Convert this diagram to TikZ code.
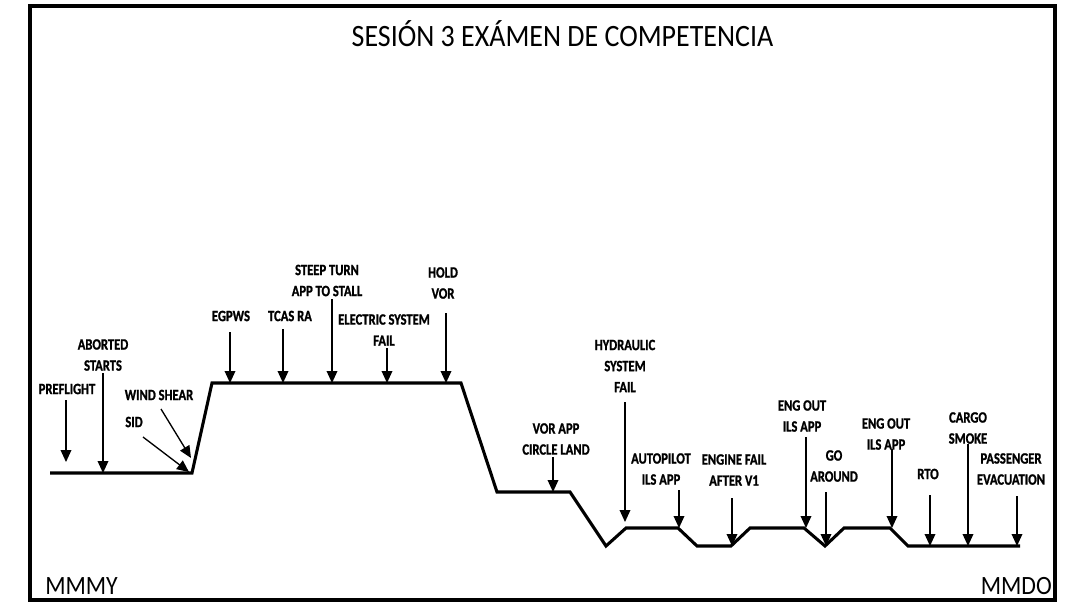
\documentclass[tikz,border=0pt]{standalone}
\usepackage{fontspec}
\setmainfont{Carlito}
\newfontfamily\titlefont{Carlito}[FakeStretch=0.9]
\newfontfamily\labfont{Carlito}[FakeStretch=0.8,FakeBold=1.2]
\usetikzlibrary{arrows.meta}
\begin{document}
\begin{tikzpicture}[x=0.75pt,y=-0.75pt,
  lab/.style={align=center,inner sep=0pt,font=\labfont\bfseries\fontsize{11.8pt}{15.8pt}\selectfont},
  evarrow/.style={line width=1pt,-{Triangle[width=8pt,length=9pt]}},
  profile/.style={line width=2.3pt,line join=miter},
  frame/.style={line width=2.3pt}]
\useasboundingbox (0,0) rectangle (1088,612);
\draw[frame] (30,6) rectangle (1055,600);
\node[inner sep=0pt,font=\titlefont\fontsize{23.3pt}{28pt}\selectfont] (title) at (562.5,34) {SESIÓN 3 EXÁMEN DE COMPETENCIA};
\node[inner sep=0pt,anchor=west,font=\titlefont\fontsize{19.8pt}{24pt}\selectfont] (orig) at (45,586) {MMMY};
\node[inner sep=0pt,anchor=east,font=\titlefont\fontsize{19.8pt}{24pt}\selectfont] (dest) at (1052,586) {MMDO};
% profile
\draw[profile] (50,473) -- (192,473) -- (212,383) -- (461,383) -- (497,492) -- (570,492) -- (606,546) -- (626,528) -- (678,528) -- (697,546) -- (731,546) -- (750,528) -- (804,528) -- (825,546) -- (844,528) -- (890,528) -- (908,546) -- (1020,546);
% labels
\node[lab] (preflight) at (67,389) {PREFLIGHT};
\node[lab] (aborted) at (103,355) {ABORTED\\STARTS};
\node[lab] (windshear) at (159,395) {WIND SHEAR};
\node[lab] (sid) at (134,422) {SID};
\node[lab] (egpws) at (231,316) {EGPWS};
\node[lab] (tcas) at (290,316) {TCAS RA};
\node[lab] (steep) at (327,280.5) {STEEP TURN\\APP TO STALL};
\node[lab] (elec) at (384,330) {ELECTRIC SYSTEM\\FAIL};
\node[lab] (hold) at (443,283) {HOLD\\VOR};
\node[lab] (hyd) at (625,366) {HYDRAULIC\\SYSTEM\\FAIL};
\node[lab] (vorapp) at (556,439) {VOR APP\\CIRCLE LAND};
\node[lab] (autop) at (661,469) {AUTOPILOT\\ILS APP};
\node[lab] (engfail) at (734,470) {ENGINE FAIL\\AFTER V1};
\node[lab] (engouta) at (802,416) {ENG OUT\\ILS APP};
\node[lab] (goaround) at (834,466) {GO\\AROUND};
\node[lab] (engoutb) at (886,434) {ENG OUT\\ILS APP};
\node[lab] (rto) at (928,474) {RTO};
\node[lab] (cargo) at (968,428) {CARGO\\SMOKE};
\node[lab] (pax) at (1011,469) {PASSENGER\\EVACUATION};
% arrow end points
\coordinate (a1s) at (66,400);   \coordinate (a1e) at (66,462);
\coordinate (a2s) at (103,373);  \coordinate (a2e) at (103,473);
\coordinate (a3s) at (143,437);  \coordinate (a3e) at (189,472);
\coordinate (a4s) at (161,409);  \coordinate (a4e) at (191,458);
\coordinate (a5s) at (230,332);  \coordinate (a5e) at (230,383);
\coordinate (a6s) at (283,329);  \coordinate (a6e) at (283,383);
\coordinate (a7s) at (332,299);  \coordinate (a7e) at (332,383);
\coordinate (a8s) at (387,348);  \coordinate (a8e) at (387,383);
\coordinate (a9s) at (446,313);  \coordinate (a9e) at (446,383);
\coordinate (b1s) at (553,457);  \coordinate (b1e) at (553,492);
\coordinate (b2s) at (625,402);  \coordinate (b2e) at (625,522);
\coordinate (b3s) at (679,490);  \coordinate (b3e) at (679,528);
\coordinate (b4s) at (732,498);  \coordinate (b4e) at (732,546);
\coordinate (b5s) at (806,437);  \coordinate (b5e) at (806,528);
\coordinate (b6s) at (826,492);  \coordinate (b6e) at (826,546);
\coordinate (b7s) at (892,449);  \coordinate (b7e) at (892,528);
\coordinate (b8s) at (930,495);  \coordinate (b8e) at (930,546);
\coordinate (b9s) at (968,444);  \coordinate (b9e) at (968,546);
\coordinate (c1s) at (1017,496); \coordinate (c1e) at (1017,546);
\foreach \s/\e in {a1s/a1e,a2s/a2e,a3s/a3e,a4s/a4e,a5s/a5e,a6s/a6e,a7s/a7e,a8s/a8e,a9s/a9e,b1s/b1e,b2s/b2e,b3s/b3e,b4s/b4e,b5s/b5e,b6s/b6e,b7s/b7e,b8s/b8e,b9s/b9e,c1s/c1e}
  \draw[evarrow] (\s) -- (\e);
\end{tikzpicture}
\end{document}
